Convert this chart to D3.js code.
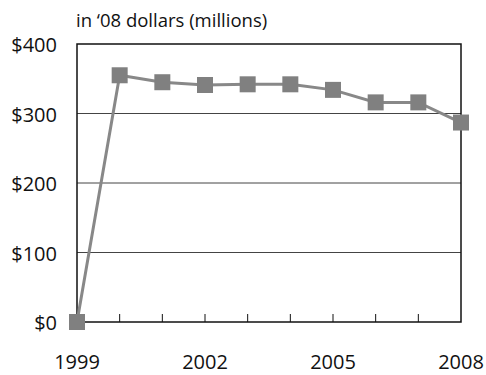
<!DOCTYPE html>
<html>
<head>
<meta charset="utf-8">
<script src="https://cdn.jsdelivr.net/npm/d3@7"></script>
<style>
  body { margin: 0; background: #fff; }
  text { font-family: "Open Sans", "DejaVu Sans", sans-serif; fill: #111; }
</style>
</head>
<body>
<div id="chart"></div>
<script>
var years = [1999, 2000, 2001, 2002, 2003, 2004, 2005, 2006, 2007, 2008];
var values = [0, 355, 345, 341, 342, 342, 334, 316, 316, 287];
var yTicks = [0, 100, 200, 300, 400];
var xLabels = [1999, 2002, 2005, 2008];

var margin = {top: 44, right: 25, bottom: 53, left: 77},
    width = 486 - margin.left - margin.right,
    height = 375 - margin.top - margin.bottom;

var svg = d3.select("#chart")
    .append("svg")
    .attr("width", 486)
    .attr("height", 375);

var g = svg.append("g")
    .attr("transform", "translate(" + margin.left + "," + margin.top + ")");

var x = d3.scaleLinear().domain([1999, 2008]).range([0, width]);
var y = d3.scaleLinear().domain([0, 400]).range([height, 0]);

svg.append("text")
    .attr("x", 76)
    .attr("y", 27)
    .style("font-size", "18.5px")
    .text("in \u201808 dollars (millions)");

// gridlines
g.selectAll(".grid")
    .data(yTicks.filter(function(d) { return d > 0 && d < 400; }))
    .enter().append("line")
    .attr("x1", 0).attr("x2", width)
    .attr("y1", function(d) { return y(d); })
    .attr("y2", function(d) { return y(d); })
    .style("stroke", "#444")
    .style("stroke-width", 1);

// frame
g.append("rect")
    .attr("width", width).attr("height", height)
    .style("fill", "none")
    .style("stroke", "#111")
    .style("stroke-width", 1.5);

// bottom ticks pointing up
g.selectAll(".tick")
    .data(years.slice(1, -1))
    .enter().append("line")
    .attr("x1", function(d) { return x(d); })
    .attr("x2", function(d) { return x(d); })
    .attr("y1", height).attr("y2", height - 8)
    .style("stroke", "#111")
    .style("stroke-width", 1);

// y labels
g.selectAll(".ylab")
    .data(yTicks)
    .enter().append("text")
    .attr("x", -20)
    .attr("y", function(d) { return y(d) + 8; })
    .style("text-anchor", "end")
    .style("font-size", "20px")
    .text(function(d) { return "$" + d; });

// x labels
g.selectAll(".xlab")
    .data(xLabels)
    .enter().append("text")
    .attr("x", function(d) { return x(d); })
    .attr("y", height + 47)
    .style("text-anchor", "middle")
    .style("font-size", "20px")
    .text(function(d) { return d; });

var line = d3.line()
    .x(function(d, i) { return x(years[i]); })
    .y(function(d) { return y(d); });

g.append("path")
    .datum(values)
    .attr("d", line)
    .style("fill", "none")
    .style("stroke", "#888")
    .style("stroke-width", 3);

g.selectAll(".mark")
    .data(values)
    .enter().append("rect")
    .attr("x", function(d, i) { return x(years[i]) - 8; })
    .attr("y", function(d) { return y(d) - 8; })
    .attr("width", 16).attr("height", 16)
    .style("fill", "#808080");
</script>
</body>
</html>
